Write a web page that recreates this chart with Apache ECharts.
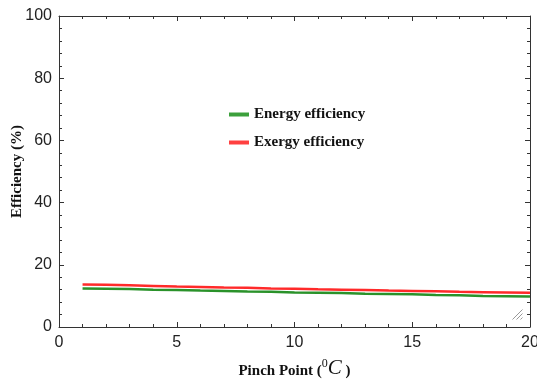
<!DOCTYPE html>
<html><head><meta charset="utf-8">
<script src="https://cdn.jsdelivr.net/npm/echarts@6/dist/echarts.min.js"></script>
<style>html,body{margin:0;padding:0;background:#fff}#c{width:537px;height:380px}</style>
</head><body><div id="c"></div>
<script>
const pinchPoints = [1,2,3,4,5,6,7,8,9,10,11,12,13,14,15,16,17,18,19,20];
const energyEff = [12.4,12.3,12.2,12.0,11.9,11.7,11.6,11.4,11.3,11.1,11.0,10.9,10.7,10.6,10.5,10.3,10.2,10.0,9.9,9.8];
const exergyEff = [13.7,13.6,13.4,13.2,13.0,12.9,12.7,12.6,12.4,12.3,12.1,12.0,11.9,11.7,11.6,11.5,11.3,11.2,11.1,11.0];
const seriesNames = ['Energy efficiency','Exergy efficiency'];
const xTicks = [0,5,10,15,20];
const yTicks = [0,20,40,60,80,100];

const chart = echarts.init(document.getElementById('c'), null, {renderer:'canvas'});
const axisCol = '#333';
const labelFont = {fontFamily:'Liberation Sans', fontSize:16, color:'#222'};
function xa(pos, showLabel){
  return {type:'value', position:pos, min:xTicks[0], max:xTicks[xTicks.length-1], interval:5,
    axisLine:{show:true, onZero:false, lineStyle:{color:axisCol, width:1}},
    axisTick:{show:true, inside:true, length:5, lineStyle:{color:axisCol}},
    minorTick:{show:true, splitNumber:5, length:3, lineStyle:{color:axisCol}},
    splitLine:{show:false},
    axisLabel:Object.assign({show:showLabel, margin:8}, labelFont),
    name: showLabel ? '{b|Pinch Point (}{s|0}{c|C}{b| )}' : '',
    nameLocation:'middle', nameGap:31,
    nameTextStyle:{rich:{
      b:{fontFamily:'Liberation Serif', fontWeight:'bold', fontSize:15, color:'#111', verticalAlign:'bottom'},
      s:{fontFamily:'Liberation Serif', fontSize:12, color:'#111', verticalAlign:'top', padding:[0,0,8,0]},
      c:{fontFamily:'Liberation Serif', fontStyle:'italic', fontSize:21, color:'#111'}
    }}
  };
}
function ya(pos, showLabel){
  return {type:'value', position:pos, min:yTicks[0], max:yTicks[yTicks.length-1], interval:20,
    axisLine:{show:true, onZero:false, lineStyle:{color:axisCol, width:1}},
    axisTick:{show:true, inside:true, length:5, lineStyle:{color:axisCol}},
    minorTick:{show:true, splitNumber:5, length:3, lineStyle:{color:axisCol}},
    splitLine:{show:false},
    axisLabel:Object.assign({show:showLabel, margin:7}, labelFont),
    name: showLabel ? 'Efficiency (%)' : '',
    nameLocation:'middle', nameGap:34, nameMoveOverlap:false,
    nameTextStyle:{fontFamily:'Liberation Serif', fontWeight:'bold', fontSize:15, color:'#111'}
  };
}
chart.setOption({
  animation:false,
  grid:{left:59, right:7, top:16, bottom:53, containLabel:false, outerBoundsMode:'none'},
  xAxis:[xa('bottom', true), xa('top', false)],
  yAxis:[ya('left', true), ya('right', false)],
  legend:{
    orient:'vertical', left:224, top:102, itemGap:13,
    itemWidth:20, itemHeight:4, icon:'rect',
    textStyle:{fontFamily:'Liberation Serif', fontWeight:'bold', fontSize:15, color:'#111'},
    data:seriesNames
  },
  graphic:[
    {type:'group', right:12, bottom:58, children:[
      {type:'line', shape:{x1:0,y1:10,x2:10,y2:0}, style:{stroke:'#999', lineWidth:1}},
      {type:'line', shape:{x1:4,y1:10,x2:10,y2:4}, style:{stroke:'#999', lineWidth:1}},
      {type:'line', shape:{x1:8,y1:10,x2:10,y2:8}, style:{stroke:'#999', lineWidth:1}}
    ]}
  ],
  series:[
    {name:seriesNames[0], type:'line', showSymbol:false, symbol:'none',
     lineStyle:{color:'#2a922a', width:2.5}, itemStyle:{color:'#3ca03c'},
     data:pinchPoints.map((x,i)=>[x, energyEff[i]])},
    {name:seriesNames[1], type:'line', showSymbol:false, symbol:'none',
     lineStyle:{color:'#ff2a2a', width:2.5}, itemStyle:{color:'#ff4040'},
     data:pinchPoints.map((x,i)=>[x, exergyEff[i]])}
  ]
});
</script></body></html>
